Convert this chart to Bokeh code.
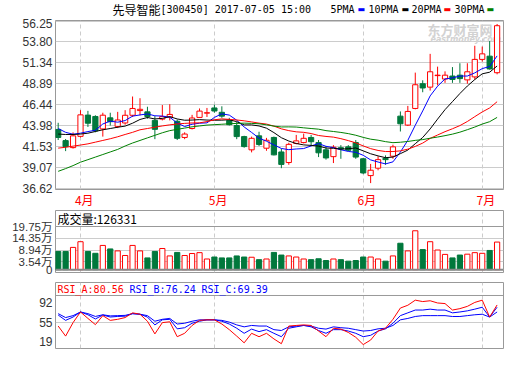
from bokeh.plotting import figure
from bokeh.layouts import column
from bokeh.models import (Range1d, FixedTicker, Label, Span, NumeralTickFormatter,
                          CustomJSTickFormatter, AllLabels)
from bokeh.embed import file_html
from bokeh.resources import INLINE

# ---------------- data ----------------
month_idx = [3, 21, 41, 57]
month_lab = ["4月", "5月", "6月", "7月"]

opens = [43.54, 42.23, 41.41, 42.73, 45.22, 45.06, 43.60, 44.90, 43.90, 44.30,
         45.20, 45.75, 45.60, 44.60, 44.75, 45.00, 44.50, 42.60, 43.65, 44.95,
         45.45, 46.06, 45.55, 44.60, 44.00, 42.70, 41.15, 42.79, 41.34, 42.60,
         40.90, 39.66, 41.90, 42.00, 42.60, 42.00, 41.15, 40.35, 41.40, 41.50,
         42.00, 40.10, 38.13, 39.00, 40.15, 40.40, 45.10, 44.05, 46.00, 48.90,
         48.50, 49.85, 49.45, 49.80, 49.90, 49.35, 49.70, 51.75, 52.13, 50.19]
highs = [44.32, 42.42, 43.20, 45.80, 45.72, 45.20, 45.50, 45.50, 45.60, 45.80,
         47.40, 47.20, 46.20, 45.10, 46.40, 46.50, 44.70, 43.20, 45.25, 46.00,
         46.06, 46.44, 46.25, 44.90, 44.40, 42.80, 42.70, 43.27, 42.55, 42.70,
         41.30, 41.98, 42.90, 43.05, 42.90, 42.30, 41.60, 41.70, 41.70, 41.70,
         42.30, 40.20, 39.50, 40.40, 40.50, 41.75, 45.65, 46.30, 50.20, 49.30,
         52.40, 50.90, 50.35, 50.85, 51.30, 51.30, 53.35, 53.25, 53.90, 55.90]
lows = [42.30, 41.00, 41.30, 42.60, 43.83, 43.20, 42.70, 44.00, 43.70, 44.10,
        45.00, 45.20, 44.80, 42.40, 44.60, 44.60, 42.30, 42.40, 43.54, 44.90,
        45.00, 45.50, 44.90, 44.00, 42.40, 41.40, 40.85, 41.60, 41.04, 40.50,
        39.00, 39.40, 41.80, 41.90, 41.60, 40.30, 40.00, 39.60, 40.10, 41.00,
        40.10, 38.30, 37.25, 38.75, 39.40, 40.10, 43.30, 43.94, 45.90, 47.90,
        48.10, 48.70, 49.00, 49.00, 49.00, 48.90, 49.40, 51.50, 50.55, 50.00]
closes = [42.60, 41.53, 42.79, 45.25, 44.27, 43.38, 45.21, 44.45, 44.65, 45.20,
          46.00, 45.90, 45.05, 43.55, 45.05, 45.30, 42.50, 43.00, 44.88, 45.69,
          45.50, 45.70, 45.10, 44.10, 42.70, 41.53, 42.50, 41.78, 42.27, 40.56,
          39.44, 41.79, 42.20, 42.50, 42.10, 40.80, 40.20, 41.45, 41.25, 41.10,
          40.30, 38.44, 38.76, 40.00, 40.00, 41.50, 44.20, 45.65, 48.78, 48.40,
          50.30, 49.90, 49.90, 49.40, 49.50, 50.30, 51.75, 52.40, 50.63, 55.70]

ma5 = [43.65, 43.20, 42.98, 43.10, 43.29, 43.44, 44.18, 44.51, 44.39, 44.58,
       45.10, 45.24, 45.36, 45.14, 45.11, 44.97, 44.29, 43.88, 44.15, 44.27,
       44.31, 44.95, 45.37, 45.22, 44.62, 43.83, 43.19, 42.52, 42.16, 41.73,
       41.31, 41.17, 41.25, 41.30, 41.61, 41.88, 41.56, 41.41, 41.16, 40.96,
       40.86, 40.51, 39.97, 39.72, 39.50, 39.74, 40.89, 42.27, 44.03, 45.71,
       47.47, 48.61, 49.46, 49.58, 49.80, 49.80, 50.17, 50.67, 50.92, 52.16]
ma10 = [43.00, 42.95, 42.95, 43.00, 43.10, 43.30, 43.50, 43.65, 43.80, 43.93,
        44.27, 44.71, 44.94, 44.77, 44.84, 45.04, 44.77, 44.62, 44.64, 44.69,
        44.64, 44.62, 44.63, 44.68, 44.45, 44.07, 44.07, 43.95, 43.69, 43.17,
        42.57, 42.18, 41.89, 41.73, 41.67, 41.59, 41.36, 41.33, 41.23, 41.28,
        41.37, 41.03, 40.69, 40.44, 40.23, 40.30, 40.70, 41.12, 41.87, 42.60,
        43.60, 44.75, 45.86, 46.80, 47.75, 48.63, 49.39, 50.06, 50.25, 50.98]
ma20 = [41.35, 41.45, 41.58, 41.71, 41.85, 42.05, 42.25, 42.45, 42.68, 42.95,
        43.20, 43.50, 43.65, 43.80, 43.95, 44.08, 44.18, 44.25, 44.30, 44.31,
        44.46, 44.67, 44.78, 44.72, 44.65, 44.55, 44.42, 44.28, 44.17, 43.93,
        43.61, 43.40, 43.26, 43.20, 43.06, 42.83, 42.72, 42.64, 42.46, 42.23,
        41.97, 41.61, 41.29, 41.08, 40.95, 40.95, 41.03, 41.23, 41.55, 41.94,
        42.49, 42.89, 43.28, 43.62, 43.99, 44.47, 45.04, 45.59, 46.06, 46.79]
ma30 = [38.63, 38.95, 39.30, 39.70, 40.00, 40.30, 40.60, 40.90, 41.20, 41.60,
        41.95, 42.25, 42.55, 42.85, 43.15, 43.40, 43.55, 43.70, 43.85, 43.95,
        44.05, 44.10, 44.15, 44.20, 44.25, 44.28, 44.25, 44.20, 44.08, 43.93,
        43.83, 43.84, 43.82, 43.73, 43.65, 43.57, 43.40, 43.30, 43.19, 43.05,
        42.86, 42.61, 42.40, 42.28, 42.11, 41.99, 42.04, 42.13, 42.26, 42.35,
        42.51, 42.65, 42.81, 42.99, 43.22, 43.51, 43.82, 44.17, 44.45, 44.95]

# volume in 万 shares
volume = [8.35, 8.35, 10.2, 12.8, 8.35, 7.5, 11.1, 9.5, 8.6, 6.5,
          11.1, 8.6, 5.4, 8.35, 9.7, 6.3, 7.9, 6.5, 7.4, 7.8,
          4.9, 5.8, 5.4, 5.4, 6.3, 5.8, 5.7, 4.6, 4.9, 7.9,
          6.7, 6.3, 5.8, 4.9, 4.6, 5.0, 4.2, 4.9, 4.6, 3.9,
          4.2, 5.8, 5.8, 4.9, 3.9, 6.3, 12.1, 8.6, 17.8, 9.2,
          12.8, 9.0, 7.0, 5.4, 6.7, 7.1, 7.8, 7.5, 8.8, 12.6331]

rsi_a = [48.2, 29.5, 54.5, 74.3, 62.3, 50.8, 67.5, 58.7, 60.7, 63.9,
         72.7, 70.1, 57.1, 33.6, 54.5, 56.1, 28.4, 34.7, 49.3, 58.7,
         59.7, 59.7, 51.9, 41.5, 29.5, 17.0, 34.7, 28.4, 34.7, 24.3,
         15.4, 48.2, 49.3, 50.3, 49.3, 38.9, 28.4, 44.1, 42.5, 36.3,
         27.4, 13.8, 22.2, 38.9, 44.1, 60.7, 81.6, 86.8, 96.2, 93.6,
         95.1, 91.0, 89.9, 77.9, 80.5, 84.7, 92.0, 96.2, 64.9, 87.3]
rsi_b = [68.6, 58.7, 64.9, 74.3, 69.1, 61.3, 68.6, 64.9, 66.0, 66.5,
         71.2, 70.1, 64.9, 50.3, 59.7, 60.7, 43.0, 45.1, 53.4, 57.1,
         59.7, 59.7, 57.1, 51.9, 44.1, 34.7, 42.5, 37.8, 41.5, 34.7,
         28.4, 44.1, 46.7, 49.3, 46.7, 39.9, 34.7, 41.5, 41.5, 38.9,
         34.7, 28.4, 31.0, 38.9, 43.0, 53.4, 67.5, 72.7, 77.9, 77.9,
         79.5, 77.9, 77.9, 72.7, 74.3, 76.4, 79.5, 83.1, 64.9, 83.1]
rsi_c = [71.2, 63.9, 67.5, 74.3, 71.2, 66.0, 69.1, 67.0, 67.5, 68.0,
         71.2, 70.1, 67.5, 57.1, 60.7, 62.3, 51.9, 53.4, 57.1, 59.7,
         59.7, 59.7, 58.7, 55.5, 50.3, 46.7, 49.3, 48.2, 48.2, 41.5,
         39.9, 46.7, 48.2, 49.3, 48.2, 44.1, 42.5, 46.7, 45.1, 44.1,
         41.5, 38.9, 39.9, 43.0, 44.1, 49.3, 59.7, 62.3, 65.9, 67.5,
         67.5, 67.5, 67.5, 65.9, 65.9, 67.5, 69.1, 70.1, 64.9, 74.3]

price_ticks = [36.62, 39.07, 41.53, 43.98, 46.44, 48.89, 51.34, 53.80, 56.25]
vol_ticks = [0, 3.54, 8.94, 14.35, 19.75]
rsi_ticks = [19, 55, 92]

title_name = "先导智能"
title_info = "[300450] 2017-07-05 15:00"
ma_names = ["5PMA", "10PMA", "20PMA", "30PMA"]
vol_title = "成交量:126331"
rsi_titles = ["RSI_A:80.56", "RSI_B:76.24", "RSI_C:69.39"]

# ---------------- styling ----------------
RED = "#ff0000"
GREEN = "#00783c"
MAGREEN = "#008000"
BLUE = "#0000ff"
FRAME = "#999999"
GRID = "#cccccc"

n = len(closes)
idx = list(range(n))
up = [c >= o for o, c in zip(opens, closes)]
col = [RED if u else GREEN for u in up]
fill = ["white" if u else GREEN for u in up]
btop = [max(o, c) for o, c in zip(opens, closes)]
bbot = [min(o, c) for o, c in zip(opens, closes)]

xr = Range1d(-0.36, 59.86)
W = 504
LEFT = 55
RIGHT = 1


def base(h, yr, top, bottom, yticks):
    p = figure(width=W, height=h, x_range=xr, y_range=yr, output_backend="svg",
               toolbar_location=None, min_border_left=LEFT, min_border_right=RIGHT,
               min_border_top=top, min_border_bottom=bottom)
    p.outline_line_color = FRAME
    p.background_fill_color = "white"
    p.border_fill_color = "white"
    p.xgrid.ticker = FixedTicker(ticks=month_idx)
    p.xgrid.grid_line_color = GRID
    p.xgrid.grid_line_dash = "4 3"
    p.yaxis.ticker = FixedTicker(ticks=yticks)
    p.yaxis.major_label_policy = AllLabels()
    p.ygrid.grid_line_color = GRID
    p.yaxis.axis_line_color = None
    p.yaxis.major_tick_line_color = None
    p.yaxis.minor_tick_line_color = None
    p.yaxis.major_tick_out = 0
    p.yaxis.major_tick_in = 0
    p.yaxis.major_label_standoff = 3
    p.yaxis.major_label_text_font = "Liberation Sans, Noto Sans CJK SC"
    p.yaxis.major_label_text_font_size = "12px"
    p.yaxis.major_label_text_color = "#333333"
    return p


def lab(p, x, y, text, color="black", font="DejaVu Sans Mono", size="10px",
        style="normal", level="annotation"):
    p.add_layout(Label(x=x, y=y, x_units="screen", y_units="screen", text=text,
                       text_color=color, text_font=font, text_font_size=size,
                       text_font_style=style, text_baseline="middle", text_align="left",
                       level=level))


# ---------------- header strip (title + MA legend) ----------------
p0 = figure(width=W, height=18, x_range=Range1d(0, 1), y_range=Range1d(0, 1),
            output_backend="svg", toolbar_location=None, min_border=0)
p0.axis.visible = False
p0.grid.visible = False
p0.outline_line_color = None
p0.border_fill_color = "white"
lab(p0, 57, 9, title_name, "black", "Noto Sans CJK SC", "12px")
lab(p0, 105, 9, title_info, "black", "DejaVu Sans Mono", "10px")
for name, tx, bx, c in zip(ma_names, [275, 313, 356, 399], [302, 346, 388, 431],
                           [BLUE, "black", RED, MAGREEN]):
    lab(p0, tx, 9, name, "black", "DejaVu Sans Mono", "10px")
    lab(p0, bx, 9, "▬", c, "DejaVu Sans", "8px")

# ---------------- main price panel ----------------
p1 = base(192, Range1d(36.50, 56.31), 2, 21, price_ticks)
p1.yaxis.formatter = NumeralTickFormatter(format="0.00")
p1.xaxis.ticker = FixedTicker(ticks=[m + 0.5 for m in month_idx])
p1.xaxis.major_label_overrides = {m + 0.5: t for m, t in zip(month_idx, month_lab)}
p1.xaxis.axis_line_color = None
p1.xaxis.major_tick_line_color = None
p1.xaxis.minor_tick_line_color = None
p1.xaxis.major_tick_out = 0
p1.xaxis.major_tick_in = 0
p1.xaxis.major_label_standoff = 1
p1.xaxis.major_label_text_color = RED
p1.xaxis.major_label_text_font = "Noto Sans CJK SC"
p1.xaxis.major_label_text_font_size = "12px"

lab(p1, 372, 160, "东方财富网", "#d2d2d2", "Noto Sans CJK SC", "13px", "bold", "underlay")
lab(p1, 375, 150, "eastmoney.com", "#d2d2d2", "DejaVu Sans", "8px", "bold italic", "underlay")

p1.segment(x0=idx, y0=lows, x1=idx, y1=highs, line_color=col, line_width=1)
p1.vbar(x=idx, width=0.7, top=btop, bottom=bbot, fill_color=fill, line_color=col, line_width=1)
for ma, c in zip([ma5, ma10, ma20, ma30], [BLUE, "black", RED, MAGREEN]):
    p1.line(idx, ma, line_color=c, line_width=1)

# ---------------- volume panel ----------------
p2 = base(72, Range1d(-1.28, 27.07), 0, 10, vol_ticks)
p2.xaxis.visible = False
p2.yaxis.formatter = CustomJSTickFormatter(
    code="return (Math.abs(tick) < 0.01) ? '0' : tick.toFixed(2) + '万';")
p2.yaxis.major_label_text_font_size = "11.5px"
p2.vbar(x=idx, width=0.7, top=volume, bottom=0, fill_color=fill, line_color=col, line_width=1)
p2.add_layout(Span(location=vol_ticks[-1], dimension="width", line_color=FRAME, line_width=1))
p2.add_layout(Span(location=0, dimension="width", line_color="#888888", line_width=2))
lab(p2, 2, 54, vol_title, "black", "Noto Sans CJK SC", "12px")

# ---------------- RSI panel ----------------
p3 = base(67, Range1d(6.5, 129.0), 0, 1, rsi_ticks)
p3.xaxis.visible = False
p3.ygrid.ticker = FixedTicker(ticks=[55])
p3.line(idx, rsi_c, line_color=BLUE, line_width=1)
p3.line(idx, rsi_b, line_color=BLUE, line_width=1)
p3.line(idx, rsi_a, line_color=RED, line_width=1)
p3.add_layout(Span(location=104.9, dimension="width", line_color=FRAME, line_width=1))
for t, x, c in zip(rsi_titles, [2, 74, 146], [RED, BLUE, BLUE]):
    lab(p3, x, 59.5, t, c, "DejaVu Sans Mono", "10px")

layout = column(p0, p1, p2, p3, spacing=0)
open("out.html", "w").write(file_html(layout, INLINE))
